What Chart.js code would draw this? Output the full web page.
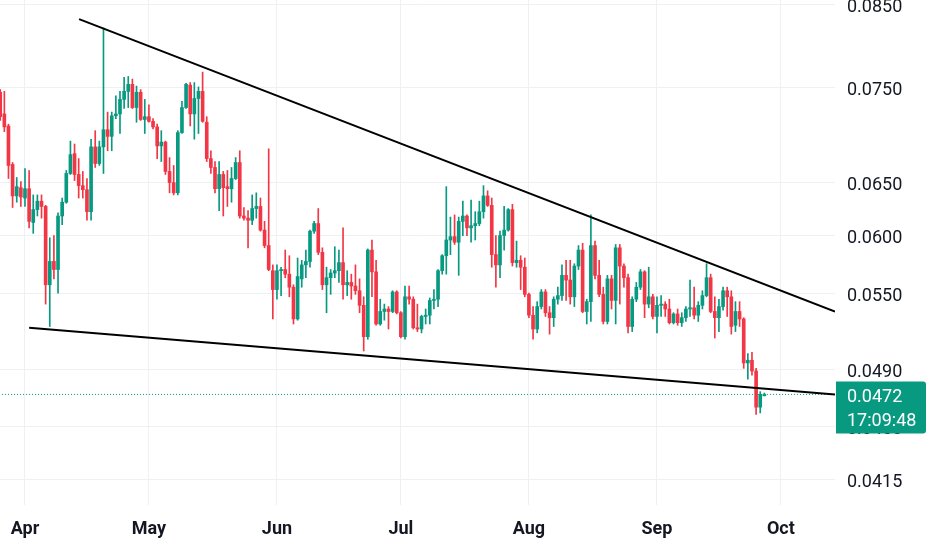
<!DOCTYPE html>
<html><head><meta charset="utf-8">
<script src="https://cdn.jsdelivr.net/npm/chart.js@4.4.1/dist/chart.umd.min.js"></script>
<style>html,body{margin:0;padding:0;background:#fff;overflow:hidden;}#wrap{width:932px;height:550px;}</style>
</head><body><div id="wrap"><canvas id="c" width="932" height="550"></canvas></div>
<script>
// Daily candles, day 0 = Mar 26
const opens = [0.0745,0.0721,0.0708,0.0668,0.0637,0.0645,0.0635,0.0644,0.0612,0.0624,
0.0632,0.0627,0.0557,0.0577,0.0570,0.0618,0.0631,0.0659,0.0679,0.0658,
0.0647,0.0643,0.0622,0.0686,0.0669,0.0686,0.0704,0.0697,0.0719,0.0721,
0.0737,0.0746,0.0754,0.0728,0.0745,0.0715,0.0718,0.0713,0.0707,0.0687,
0.0691,0.0661,0.0650,0.0640,0.0701,0.0728,0.0753,0.0721,0.0738,0.0746,
0.0712,0.0674,0.0665,0.0644,0.0658,0.0646,0.0644,0.0654,0.0670,0.0618,
0.0616,0.0614,0.0625,0.0627,0.0605,0.0591,0.0569,0.0553,0.0569,0.0570,
0.0566,0.0555,0.0529,0.0562,0.0574,0.0577,0.0604,0.0611,0.0585,0.0557,
0.0563,0.0567,0.0569,0.0576,0.0557,0.0559,0.0556,0.0552,0.0540,0.0515,
0.0587,0.0568,0.0525,0.0535,0.0537,0.0535,0.0551,0.0534,0.0515,0.0547,
0.0545,0.0522,0.0521,0.0531,0.0532,0.0544,0.0545,0.0569,0.0582,0.0596,
0.0599,0.0594,0.0613,0.0618,0.0607,0.0609,0.0611,0.0622,0.0637,0.0628,
0.0583,0.0574,0.0600,0.0605,0.0624,0.0576,0.0578,0.0572,0.0549,0.0532,
0.0521,0.0539,0.0551,0.0534,0.0530,0.0545,0.0548,0.0565,0.0561,0.0547,
0.0573,0.0587,0.0535,0.0543,0.0591,0.0565,0.0549,0.0527,0.0562,0.0544,
0.0589,0.0573,0.0563,0.0523,0.0545,0.0555,0.0568,0.0541,0.0547,0.0531,
0.0540,0.0541,0.0537,0.0526,0.0533,0.0526,0.0530,0.0537,0.0538,0.0532,
0.0540,0.0548,0.0563,0.0535,0.0530,0.0539,0.0552,0.0547,0.0524,0.0535,
0.0529,0.0495,0.0497,0.0489,0.0463,0.0471];
const highs = [0.0748,0.0746,0.0710,0.0670,0.0655,0.0651,0.0664,0.0662,0.0638,0.0638,
0.0638,0.0628,0.0598,0.0600,0.0621,0.0635,0.0662,0.0692,0.0689,0.0674,
0.0661,0.0654,0.0694,0.0703,0.0692,0.0821,0.0723,0.0723,0.0741,0.0746,
0.0762,0.0763,0.0760,0.0752,0.0748,0.0737,0.0731,0.0716,0.0710,0.0703,
0.0692,0.0675,0.0667,0.0703,0.0735,0.0755,0.0756,0.0756,0.0751,0.0768,
0.0718,0.0682,0.0671,0.0671,0.0661,0.0662,0.0665,0.0675,0.0682,0.0626,
0.0623,0.0638,0.0640,0.0635,0.0613,0.0684,0.0574,0.0574,0.0572,0.0587,
0.0582,0.0557,0.0580,0.0578,0.0587,0.0605,0.0613,0.0625,0.0589,0.0572,
0.0570,0.0590,0.0587,0.0607,0.0569,0.0566,0.0574,0.0562,0.0547,0.0588,
0.0596,0.0578,0.0545,0.0541,0.0539,0.0552,0.0552,0.0535,0.0556,0.0556,
0.0547,0.0541,0.0532,0.0537,0.0546,0.0553,0.0570,0.0583,0.0646,0.0617,
0.0619,0.0617,0.0632,0.0619,0.0633,0.0622,0.0632,0.0647,0.0642,0.0635,
0.0600,0.0604,0.0627,0.0625,0.0629,0.0595,0.0582,0.0580,0.0550,0.0539,
0.0543,0.0553,0.0553,0.0539,0.0547,0.0555,0.0574,0.0578,0.0578,0.0575,
0.0591,0.0593,0.0545,0.0619,0.0595,0.0578,0.0555,0.0565,0.0565,0.0592,
0.0592,0.0575,0.0566,0.0547,0.0559,0.0570,0.0569,0.0572,0.0549,0.0547,
0.0548,0.0543,0.0545,0.0534,0.0537,0.0534,0.0539,0.0561,0.0555,0.0543,
0.0552,0.0575,0.0566,0.0547,0.0545,0.0555,0.0555,0.0552,0.0543,0.0543,
0.0530,0.0502,0.0503,0.0491,0.0474,0.0473];
const lows = [0.0714,0.0702,0.0654,0.0626,0.0631,0.0627,0.0627,0.0607,0.0602,0.0618,
0.0616,0.0541,0.0523,0.0562,0.0550,0.0610,0.0630,0.0658,0.0652,0.0635,
0.0635,0.0614,0.0614,0.0665,0.0667,0.0659,0.0682,0.0682,0.0716,0.0700,
0.0727,0.0728,0.0727,0.0712,0.0714,0.0700,0.0712,0.0705,0.0674,0.0671,
0.0658,0.0640,0.0638,0.0638,0.0700,0.0727,0.0708,0.0694,0.0700,0.0712,
0.0671,0.0659,0.0640,0.0623,0.0618,0.0627,0.0631,0.0653,0.0616,0.0614,
0.0589,0.0610,0.0616,0.0604,0.0589,0.0569,0.0529,0.0545,0.0548,0.0563,
0.0547,0.0525,0.0528,0.0555,0.0563,0.0572,0.0602,0.0583,0.0553,0.0534,
0.0549,0.0563,0.0559,0.0545,0.0548,0.0545,0.0549,0.0534,0.0504,0.0513,
0.0547,0.0524,0.0524,0.0528,0.0521,0.0534,0.0533,0.0514,0.0513,0.0541,
0.0521,0.0519,0.0518,0.0525,0.0525,0.0537,0.0539,0.0566,0.0566,0.0583,
0.0592,0.0565,0.0600,0.0600,0.0594,0.0596,0.0609,0.0616,0.0627,0.0572,
0.0555,0.0563,0.0587,0.0604,0.0573,0.0572,0.0553,0.0547,0.0530,0.0513,
0.0518,0.0537,0.0531,0.0517,0.0523,0.0541,0.0544,0.0544,0.0541,0.0539,
0.0570,0.0534,0.0525,0.0527,0.0562,0.0547,0.0525,0.0525,0.0537,0.0525,
0.0541,0.0555,0.0518,0.0519,0.0543,0.0553,0.0530,0.0538,0.0529,0.0518,
0.0531,0.0531,0.0525,0.0525,0.0524,0.0523,0.0527,0.0531,0.0529,0.0527,
0.0537,0.0547,0.0534,0.0514,0.0519,0.0536,0.0531,0.0517,0.0519,0.0523,
0.0491,0.0483,0.0486,0.0458,0.0459,0.0471];
const closes = [0.0718,0.0707,0.0667,0.0637,0.0646,0.0636,0.0644,0.0613,0.0624,0.0632,
0.0627,0.0557,0.0577,0.0570,0.0618,0.0631,0.0659,0.0678,0.0658,0.0647,
0.0643,0.0622,0.0686,0.0669,0.0686,0.0704,0.0697,0.0719,0.0721,0.0737,
0.0746,0.0754,0.0728,0.0745,0.0715,0.0718,0.0713,0.0707,0.0687,0.0691,
0.0661,0.0650,0.0640,0.0701,0.0728,0.0754,0.0721,0.0738,0.0746,0.0713,
0.0674,0.0665,0.0644,0.0658,0.0645,0.0644,0.0654,0.0670,0.0618,0.0616,
0.0614,0.0625,0.0627,0.0605,0.0591,0.0570,0.0553,0.0569,0.0570,0.0566,
0.0555,0.0529,0.0564,0.0574,0.0577,0.0604,0.0611,0.0585,0.0557,0.0563,
0.0567,0.0569,0.0576,0.0557,0.0559,0.0556,0.0552,0.0540,0.0515,0.0587,
0.0568,0.0525,0.0535,0.0537,0.0535,0.0551,0.0534,0.0515,0.0547,0.0545,
0.0522,0.0521,0.0531,0.0532,0.0544,0.0545,0.0569,0.0582,0.0596,0.0599,
0.0594,0.0613,0.0618,0.0607,0.0609,0.0611,0.0622,0.0637,0.0628,0.0583,
0.0574,0.0600,0.0605,0.0624,0.0576,0.0578,0.0572,0.0549,0.0532,0.0521,
0.0539,0.0551,0.0534,0.0530,0.0545,0.0548,0.0565,0.0561,0.0547,0.0573,
0.0587,0.0535,0.0543,0.0591,0.0565,0.0549,0.0527,0.0562,0.0544,0.0589,
0.0573,0.0563,0.0523,0.0545,0.0555,0.0568,0.0541,0.0547,0.0531,0.0540,
0.0541,0.0537,0.0526,0.0533,0.0526,0.0530,0.0537,0.0538,0.0532,0.0540,
0.0548,0.0563,0.0535,0.0530,0.0539,0.0552,0.0547,0.0523,0.0535,0.0529,
0.0495,0.0497,0.0489,0.0463,0.0472,0.0472];

const monthTicks = [6, 36, 67, 97, 128, 159, 189];
const monthLabels = ['Apr', 'May', 'Jun', 'Jul', 'Aug', 'Sep', 'Oct'];
const priceTicks = [0.0415, 0.0450, 0.0490, 0.0550, 0.0600, 0.0650, 0.0750, 0.0850];
const lastPrice = 0.0472;
const countdown = '17:09:48';
const upperLineX = [19.1, 202.1];
const upperLineY = [0.0832, 0.0535];
const lowerLineX = [7.0, 202.1];
const lowerLineY = [0.0522, 0.0472];

const GREEN = '#089981', RED = '#F23645', GRID = '#eef0f4', TEXT = '#131722';
const dayIdx = opens.map((_, i) => i);
const colors = dayIdx.map(i => closes[i] >= opens[i] ? GREEN : RED);

const priceBox = {
  id: 'priceBox',
  afterDraw(chart) {
    const { ctx, scales: { y }, chartArea } = chart;
    const py = y.getPixelForValue(lastPrice);
    const x0 = chartArea.right + 1, w = 90, top = py - 13, h = 52, r = 3;
    ctx.save();
    ctx.fillStyle = GREEN;
    ctx.beginPath();
    ctx.moveTo(x0, top);
    ctx.lineTo(x0 + w - r, top);
    ctx.quadraticCurveTo(x0 + w, top, x0 + w, top + r);
    ctx.lineTo(x0 + w, top + h - r);
    ctx.quadraticCurveTo(x0 + w, top + h, x0 + w - r, top + h);
    ctx.lineTo(x0, top + h);
    ctx.closePath();
    ctx.fill();
    ctx.fillStyle = '#ffffff';
    ctx.font = '18px Roboto';
    ctx.textAlign = 'left';
    ctx.textBaseline = 'middle';
    ctx.fillText(lastPrice.toFixed(4), x0 + 11, py + 3);
    ctx.fillText(countdown, x0 + 11, py + 27);
    ctx.restore();
  }
};

new Chart(document.getElementById('c'), {
  type: 'bar',
  data: {
    datasets: [
      { type: 'line', data: upperLineX.map((x, i) => ({ x, y: upperLineY[i] })), borderColor: '#000', borderWidth: 2, pointRadius: 0, order: 0 },
      { type: 'line', data: lowerLineX.map((x, i) => ({ x, y: lowerLineY[i] })), borderColor: '#000', borderWidth: 2, pointRadius: 0, order: 0 },
      { type: 'line', data: [{ x: -1, y: lastPrice }, { x: 203, y: lastPrice }], borderColor: GREEN, borderWidth: 1, borderDash: [1, 2], pointRadius: 0, order: 1 },
      { data: dayIdx.map(i => ({ x: i, y: [lows[i], highs[i]] })), backgroundColor: colors, barThickness: 1, grouped: false, order: 3 },
      { data: dayIdx.map(i => ({ x: i, y: [opens[i], closes[i]] })), backgroundColor: colors, barThickness: 3, minBarLength: 1, grouped: false, order: 2 }
    ]
  },
  options: {
    responsive: false,
    animation: false,
    layout: { padding: 0 },
    plugins: { legend: { display: false }, tooltip: { enabled: false } },
    scales: {
      x: {
        type: 'linear', min: -0.05, max: 202.1, offset: false,
        grid: { color: GRID, drawTicks: false, offset: false },
        border: { display: false },
        afterBuildTicks: s => { s.ticks = monthTicks.map(v => ({ value: v })); },
        ticks: {
          callback: v => monthLabels[monthTicks.indexOf(v)],
          font: { family: 'Roboto', size: 18, weight: 'bold' }, color: TEXT,
          padding: 14, maxRotation: 0, autoSkip: false
        },
        afterFit: s => { s.height = 45; s.paddingLeft = 0; s.paddingRight = 0; }
      },
      y: {
        type: 'logarithmic', position: 'right', min: 0.03994, max: 0.08564,
        grid: { color: GRID, drawTicks: false },
        border: { display: false },
        afterBuildTicks: s => { s.ticks = priceTicks.map(v => ({ value: v })); },
        ticks: {
          callback: v => Number(v).toFixed(4),
          font: { family: 'Roboto', size: 18 }, color: TEXT, padding: 12, autoSkip: false,
          labelOffset: 3
        },
        afterFit: s => { s.width = 97; s.paddingTop = 0; s.paddingBottom = 0; }
      }
    }
  },
  plugins: [priceBox]
});
</script>
</body></html>
